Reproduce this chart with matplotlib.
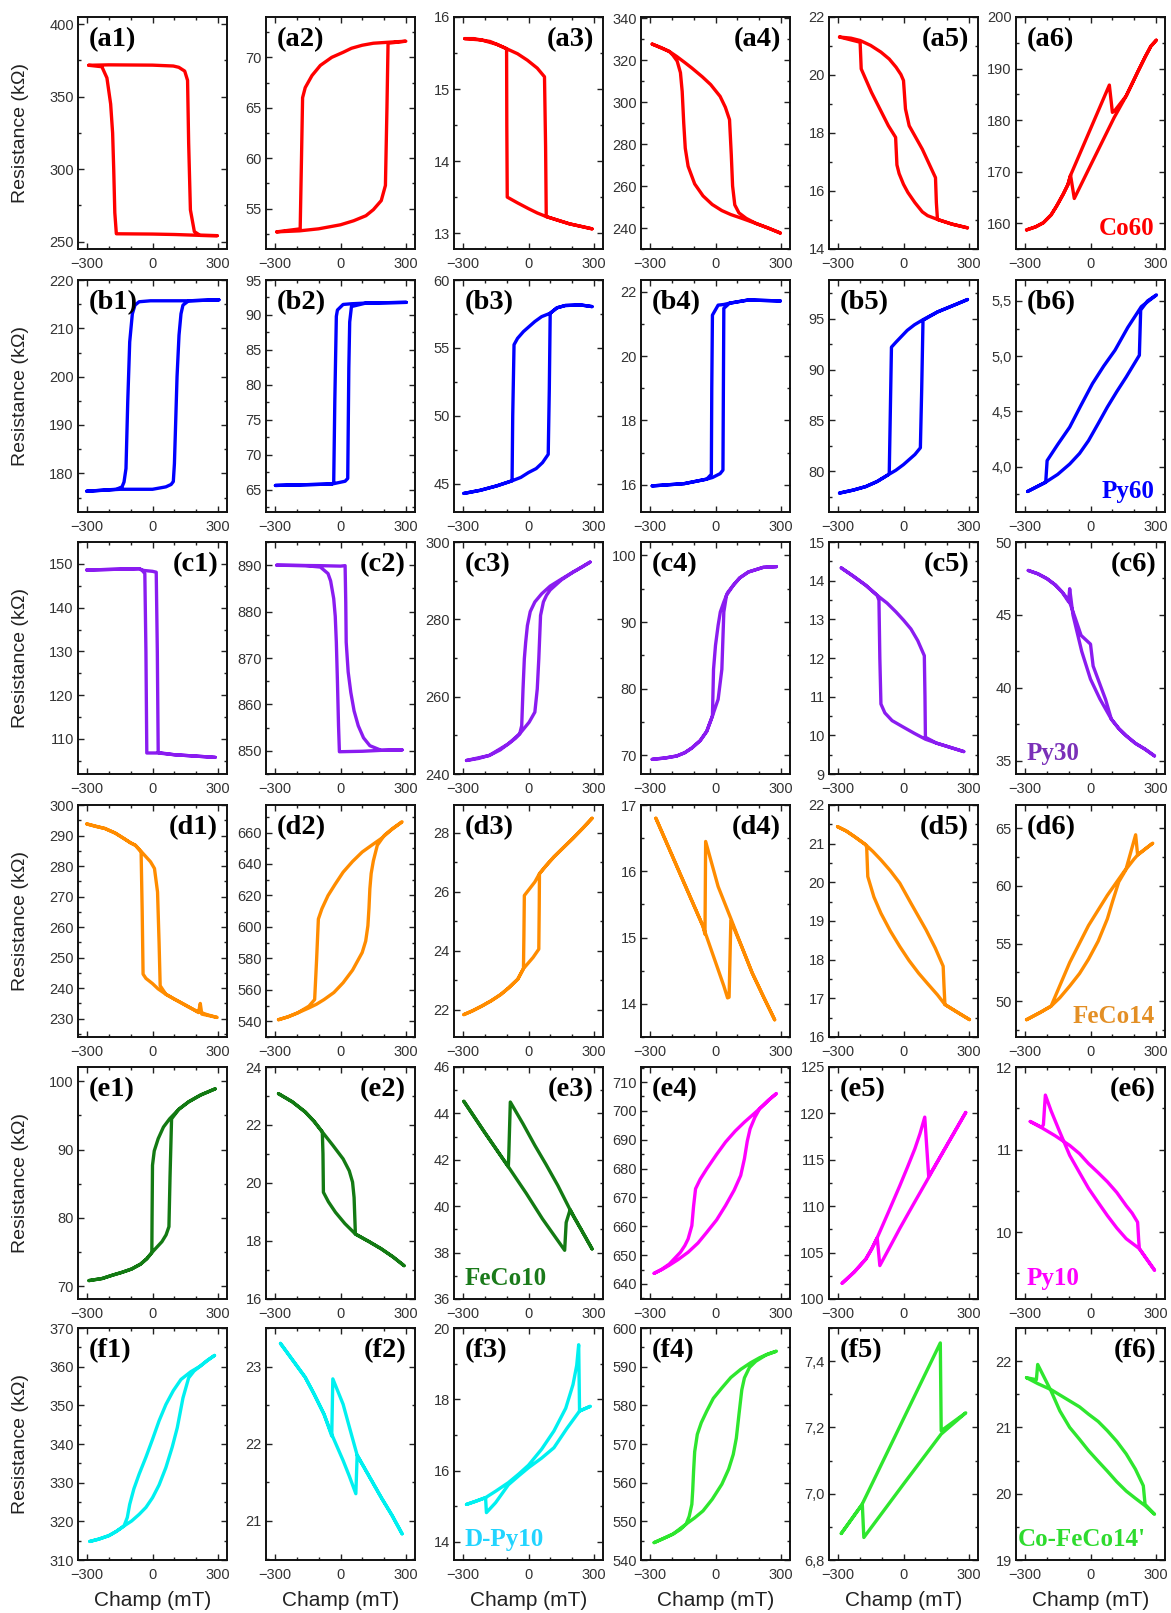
import matplotlib
matplotlib.use("Agg")
import matplotlib.pyplot as plt
from matplotlib.ticker import MultipleLocator, AutoMinorLocator, FuncFormatter

# ---------------- data: hysteresis loops (field mT, resistance kOhm) ----------------
a1 = [(-291, 371.7), (-200, 372.0), (0, 371.8), (95, 371.2), (120, 370.3), (147, 367.7), (160, 361.3), (165, 318), (173, 272), (191, 257), (217, 254.4), (295, 254.2),
      (217, 254.4), (100, 255.0), (0, 255.3), (-165, 255.5), (-172, 270), (-177, 300), (-182, 325), (-191, 345), (-208, 363), (-231, 370.7), (-291, 371.7)]
a2 = [(-291, 52.7), (-187, 52.8), (-100, 53.0), (0, 53.4), (60, 53.8), (116, 54.3), (150, 54.9), (186, 55.8), (205, 57.3), (212, 65.0), (217, 71.4), (298, 71.6),
      (220, 71.5), (150, 71.4), (99, 71.2), (50, 70.9), (12, 70.5), (-40, 70.0), (-92, 69.2), (-130, 68.2), (-161, 67.0), (-173, 66.0), (-178, 60.0), (-184, 53.0), (-291, 52.7)]
a3 = [(-291, 15.70), (-250, 15.70), (-213, 15.68), (-175, 15.66), (-144, 15.62), (-100, 15.56), (-50, 15.49), (-5, 15.40), (40, 15.29), (73, 15.17), (78, 14.2), (81, 13.23), (186, 13.13), (290, 13.06),
      (186, 13.13), (81, 13.23), (40, 13.28), (0, 13.34), (-50, 13.42), (-97, 13.50), (-99, 14.5), (-100, 15.56), (-144, 15.62), (-213, 15.68), (-291, 15.70)]
a4 = [(-289, 327.6), (-250, 326.0), (-211, 324.1), (-177, 321.7), (-140, 318.8), (-108, 316.2), (-60, 312.0), (-22, 308.3), (21, 302.7), (45, 297.5), (64, 291.6), (72, 275), (78, 260), (88, 251), (107, 247.2), (140, 244.6), (184, 242.2), (240, 240.0), (296, 237.6),
      (240, 240.0), (184, 242.2), (115, 244.8), (70, 246.4), (29, 248.3), (-15, 251.2), (-57, 255.3), (-95, 261.0), (-125, 269.4), (-138, 278), (-145, 290), (-152, 305), (-160, 314.0), (-175, 319.5), (-195, 322.4), (-211, 324.1), (-289, 327.6)]
a5 = [(-292, 21.31), (-240, 21.27), (-198, 21.19), (-150, 21.02), (-103, 20.79), (-65, 20.55), (-34, 20.27), (-12, 20.02), (0, 19.81), (9, 18.83), (26, 18.25), (86, 17.44), (146, 16.46), (150, 15.6), (155, 15.02), (220, 14.86), (292, 14.73),
      (220, 14.86), (155, 15.02), (110, 15.15), (86, 15.28), (52, 15.6), (20, 15.95), (0, 16.23), (-20, 16.6), (-30, 16.9), (-36, 17.85), (-69, 18.25), (-146, 19.40), (-193, 20.21), (-198, 21.13), (-292, 21.31)]
a6 = [(-292, 158.7), (-250, 159.3), (-215, 160.1), (-180, 161.6), (-155, 163.3), (-125, 165.6), (-103, 167.5), (-91, 169.3), (-74, 164.8), (0, 171.2), (50, 175.5), (108, 180.5), (163, 184.7), (215, 189.3), (250, 192.3), (275, 194.3), (300, 195.5),
      (275, 194.3), (250, 192.3), (215, 189.3), (163, 184.7), (110, 181.8), (100, 181.5), (86, 186.8), (0, 178.3), (-91, 169.3), (-103, 167.5), (-125, 165.6), (-155, 163.3), (-180, 161.6), (-215, 160.1), (-250, 159.3), (-292, 158.7)]

b1 = [(-300, 176.3), (-147, 176.7), (0, 176.7), (61, 177.2), (85, 177.7), (95, 178.3), (100, 182), (104, 187.9), (112, 200), (121, 208.6), (130, 213.0), (139, 214.8), (165, 215.7), (303, 215.9),
      (165, 215.7), (-9, 215.7), (-61, 215.5), (-80, 214.8), (-92, 213.0), (-104, 207.2), (-113, 194.8), (-121, 181.0), (-130, 178.2), (-139, 177.2), (-165, 176.7), (-300, 176.3)]
b2 = [(-297, 65.6), (-40, 65.8), (21, 66.2), (33, 66.6), (38, 82.4), (42, 89.0), (50, 91.2), (116, 91.7), (300, 91.8),
      (116, 91.7), (50, 91.6), (12, 91.5), (-14, 90.7), (-19, 89.8), (-26, 77.6), (-31, 66.0), (-40, 65.8), (-297, 65.6)]
b3 = [(-295, 44.27), (-220, 44.5), (-144, 44.83), (-75, 45.2), (-35, 45.45), (0, 45.81), (35, 46.1), (64, 46.54), (90, 47.15), (95, 52.0), (99, 57.55), (130, 57.95), (168, 58.12), (238, 58.16), (290, 58.04),
      (238, 58.16), (168, 58.12), (130, 57.95), (99, 57.55), (60, 57.3), (29, 56.94), (-23, 56.2), (-50, 55.7), (-66, 55.23), (-72, 50.0), (-75, 45.2), (-144, 44.83), (-220, 44.5), (-295, 44.27)]
b4 = [(-289, 15.97), (-143, 16.04), (-40, 16.18), (-14, 16.23), (21, 16.35), (34, 16.46), (36, 19.0), (38, 21.48), (64, 21.64), (150, 21.74), (296, 21.71),
      (150, 21.74), (64, 21.64), (38, 21.6), (12, 21.58), (-14, 21.27), (-17, 19.0), (-19, 16.33), (-40, 16.18), (-143, 16.04), (-289, 15.97)]
b5 = [(-292, 77.86), (-230, 78.15), (-172, 78.5), (-120, 79.0), (-69, 79.67), (-35, 80.1), (0, 80.66), (52, 81.65), (77, 82.31), (83, 88.0), (89, 94.84), (155, 95.66), (241, 96.42), (292, 96.88),
      (241, 96.42), (155, 95.66), (89, 94.9), (50, 94.4), (17, 93.85), (-34, 92.7), (-55, 92.2), (-60, 86.0), (-65, 79.83), (-69, 79.67), (-120, 79.0), (-172, 78.5), (-230, 78.15), (-292, 77.86)]
b6 = [(-287, 3.776), (-206, 3.858), (-150, 3.93), (-95, 4.024), (-50, 4.12), (-9, 4.236), (35, 4.39), (77, 4.54), (120, 4.68), (163, 4.812), (223, 5.009), (229, 5.418), (260, 5.50), (301, 5.555),
      (232, 5.449), (170, 5.26), (112, 5.055), (60, 4.91), (9, 4.752), (-45, 4.55), (-95, 4.358), (-150, 4.2), (-198, 4.055), (-204, 3.87), (-206, 3.858), (-287, 3.776)]

c1 = [(-300, 148.6), (-61, 148.9), (-40, 148.5), (0, 148.3), (17, 148.1), (22, 130.0), (26, 106.9), (100, 106.4), (286, 105.8),
      (100, 106.4), (26, 106.8), (-26, 106.8), (-30, 130.0), (-35, 147.8), (-47, 148.5), (-61, 148.9), (-300, 148.6)]
c2 = [(-291, 890.0), (-92, 889.9), (0, 889.8), (21, 889.9), (24, 882.0), (26, 873.4), (35, 867.0), (47, 862.6), (62, 858.6), (81, 855.4), (105, 852.8), (134, 851.1), (186, 850.1), (281, 850.2),
      (186, 850.1), (100, 849.9), (-5, 849.8), (-9, 855.4), (-14, 865.0), (-19, 873.4), (-24, 879.0), (-31, 882.8), (-45, 886.6), (-57, 888.2), (-92, 889.6), (-161, 889.9), (-291, 890.0)]
c3 = [(-283, 243.5), (-230, 244.0), (-179, 244.8), (-130, 246.2), (-92, 247.8), (-60, 249.2), (-40, 250.4), (3, 253.4), (29, 256.0), (40, 262.0), (47, 269.8), (55, 281.0), (68, 284.5), (82, 286.2), (99, 287.6), (150, 290.2), (203, 292.2), (240, 293.4), (281, 294.8),
      (240, 293.4), (203, 292.2), (150, 290.4), (99, 288.6), (60, 286.6), (29, 284.5), (8, 282.0), (-5, 278.4), (-13, 274.0), (-19, 269.8), (-25, 262.0), (-31, 252.5), (-40, 250.4), (-92, 247.8), (-179, 244.8), (-283, 243.5)]
c4 = [(-289, 69.4), (-230, 69.6), (-177, 69.9), (-140, 70.4), (-108, 71.1), (-70, 72.2), (-40, 73.6), (-14, 75.9), (12, 78.4), (29, 82.9), (38, 91.5), (50, 94.0), (81, 95.5), (110, 96.6), (150, 97.5), (218, 98.2), (278, 98.3),
      (218, 98.2), (150, 97.5), (110, 96.6), (81, 95.5), (55, 94.4), (38, 93.0), (22, 91.5), (12, 89.5), (0, 86.5), (-9, 82.9), (-14, 75.9), (-40, 73.6), (-70, 72.2), (-108, 71.1), (-140, 70.4), (-177, 69.9), (-230, 69.6), (-289, 69.4)]
c5 = [(-284, 14.33), (-230, 14.12), (-172, 13.88), (-120, 13.62), (-75, 13.42), (-34, 13.19), (0, 12.98), (34, 12.75), (65, 12.45), (95, 12.06), (98, 11.0), (100, 9.95), (150, 9.8), (275, 9.58),
      (150, 9.8), (100, 9.9), (50, 10.05), (0, 10.21), (-52, 10.38), (-85, 10.58), (-103, 10.81), (-108, 12.0), (-112, 13.49), (-120, 13.62), (-172, 13.88), (-230, 14.12), (-284, 14.33)]
c6 = [(-284, 48.05), (-240, 47.82), (-198, 47.48), (-160, 47.05), (-129, 46.56), (-100, 45.9), (-95, 46.8), (-80, 45.0), (-40, 42.5), (0, 40.6), (43, 39.24), (95, 37.86), (130, 37.2), (163, 36.72), (205, 36.2), (249, 35.8), (292, 35.34),
      (249, 35.8), (205, 36.2), (163, 36.72), (130, 37.2), (95, 37.86), (69, 39.2), (12, 41.5), (0, 43.0), (-43, 43.6), (-70, 44.8), (-98, 45.99), (-129, 46.56), (-160, 47.05), (-198, 47.48), (-240, 47.82), (-284, 48.05)]

d1 = [(-300, 293.8), (-260, 293.0), (-217, 292.3), (-170, 290.8), (-130, 289.0), (-100, 287.6), (-78, 286.8), (-52, 284.8), (-9, 281.4), (9, 279.2), (23, 271.5), (30, 255.0), (35, 240.8), (61, 238.0), (113, 235.9), (160, 234.0), (199, 232.6), (250, 231.3), (295, 230.4),
      (225, 231.5), (218, 235.0), (210, 232.0), (150, 234.5), (100, 236.4), (61, 238.0), (25, 239.8), (0, 241.5), (-30, 243.2), (-43, 244.6), (-47, 265.0), (-52, 284.6), (-78, 286.8), (-100, 287.6), (-130, 289.0), (-170, 290.8), (-217, 292.3), (-300, 293.8)]
d2 = [(-283, 541.0), (-240, 542.8), (-196, 545.3), (-144, 548.5), (-110, 550.8), (-75, 553.8), (-30, 558.3), (12, 564.5), (55, 572.5), (99, 583.7), (115, 591.0), (125, 600.7), (130, 612.0), (134, 624.2), (140, 634.0), (150, 642.0), (168, 651.9), (200, 658.2), (238, 662.6), (281, 666.8),
      (230, 661.5), (186, 656.2), (140, 651.7), (99, 647.6), (55, 641.6), (12, 634.8), (-25, 627.0), (-57, 619.9), (-85, 611.5), (-101, 605.0), (-109, 579.4), (-118, 553.8), (-144, 549.6), (-196, 545.3), (-240, 542.8), (-283, 541.0)]
d3 = [(-295, 21.83), (-255, 21.96), (-213, 22.12), (-170, 22.3), (-127, 22.51), (-90, 22.74), (-49, 23.03), (-23, 23.39), (21, 23.77), (47, 24.05), (49, 25.5), (50, 26.61), (80, 26.88), (116, 27.18), (160, 27.5), (203, 27.81), (250, 28.17), (290, 28.49),
      (250, 28.17), (203, 27.81), (160, 27.5), (116, 27.18), (80, 26.88), (50, 26.61), (29, 26.33), (-19, 25.87), (-21, 24.5), (-23, 23.39), (-49, 23.03), (-90, 22.74), (-127, 22.51), (-170, 22.3), (-213, 22.12), (-255, 21.96), (-295, 21.83)]
d4 = [(-272, 16.8), (-160, 15.95), (-57, 15.17), (0, 14.63), (38, 14.27), (55, 14.09), (62, 14.1), (70, 15.25), (120, 14.86), (167, 14.47), (220, 14.1), (270, 13.76),
      (220, 14.1), (167, 14.47), (120, 14.86), (72, 15.27), (12, 15.77), (-45, 16.45), (-48, 15.05), (-57, 15.17), (-160, 15.95), (-272, 16.8)]
d5 = [(-301, 21.44), (-262, 21.33), (-223, 21.18), (-172, 20.97), (-140, 20.8), (-103, 20.58), (-60, 20.3), (-17, 19.98), (34, 19.46), (103, 18.77), (145, 18.3), (181, 17.83), (185, 17.3), (189, 16.84), (240, 16.66), (301, 16.45),
      (240, 16.66), (189, 16.84), (155, 17.09), (110, 17.38), (69, 17.65), (25, 17.98), (-17, 18.34), (-60, 18.74), (-103, 19.2), (-135, 19.62), (-163, 20.15), (-168, 20.9), (-172, 20.97), (-223, 21.18), (-262, 21.33), (-301, 21.44)]
d6 = [(-292, 48.4), (-232, 49.0), (-180, 49.57), (-95, 53.35), (-9, 56.56), (77, 59.18), (163, 61.5), (206, 64.42), (215, 62.67), (250, 63.2), (284, 63.69),
      (215, 62.67), (198, 62.3), (165, 61.5), (129, 60.34), (100, 58.6), (77, 57.14), (35, 55.2), (-9, 53.64), (-50, 52.4), (-95, 51.31), (-140, 50.3), (-180, 49.57), (-232, 49.0), (-292, 48.4)]

e1 = [(-290, 70.8), (-230, 71.1), (-182, 71.6), (-140, 72.0), (-95, 72.5), (-55, 73.2), (-26, 74.0), (-3, 74.9), (20, 75.7), (43, 76.5), (62, 77.5), (75, 78.7), (80, 86.0), (87, 94.5), (120, 95.9), (165, 97.0), (220, 98.0), (286, 98.9),
      (220, 98.0), (165, 97.0), (120, 95.9), (78, 94.5), (50, 93.3), (26, 91.6), (8, 89.8), (0, 87.7), (-2, 80.0), (-3, 74.9), (-26, 74.0), (-55, 73.2), (-95, 72.5), (-140, 72.0), (-182, 71.6), (-230, 71.1), (-290, 70.8)]
e2 = [(-283, 23.08), (-220, 22.8), (-161, 22.45), (-120, 22.12), (-83, 21.76), (-35, 21.3), (12, 20.83), (40, 20.42), (55, 20.03), (62, 19.5), (68, 18.24), (130, 17.98), (186, 17.73), (240, 17.45), (290, 17.15),
      (240, 17.45), (186, 17.73), (130, 17.98), (68, 18.24), (20, 18.6), (-23, 18.99), (-55, 19.35), (-78, 19.68), (-80, 21.0), (-83, 21.76), (-120, 22.12), (-161, 22.45), (-220, 22.8), (-283, 23.08)]
e3 = [(-295, 44.52), (-200, 43.18), (-92, 41.7), (-10, 40.55), (64, 39.45), (165, 38.1), (172, 39.3), (190, 39.85), (240, 39.0), (290, 38.16),
      (240, 39.0), (203, 39.6), (134, 40.89), (80, 41.8), (29, 42.62), (-25, 43.55), (-83, 44.49), (-90, 42.2), (-92, 41.7), (-200, 43.18), (-295, 44.52)]
e4 = [(-280, 643.7), (-245, 645.0), (-211, 646.5), (-170, 648.5), (-125, 651.0), (-80, 654.2), (-40, 657.9), (5, 662.2), (46, 667.2), (85, 672.5), (115, 677.6), (132, 683.4), (145, 689.5), (158, 693.8), (180, 697.8), (201, 700.7), (240, 703.6), (278, 706.0),
      (250, 704.2), (218, 701.9), (180, 699.3), (132, 696.1), (90, 693.0), (46, 689.2), (5, 684.9), (-40, 679.9), (-70, 676.3), (-91, 673.0), (-100, 667.0), (-108, 660.2), (-125, 655.6), (-140, 653.3), (-160, 651.0), (-211, 646.9), (-245, 645.1), (-280, 643.7)]
e5 = [(-280, 101.7), (-225, 102.9), (-172, 104.3), (-145, 105.4), (-120, 106.6), (-108, 103.6), (-60, 105.7), (-17, 107.6), (45, 110.2), (103, 112.6), (155, 114.8), (206, 116.9), (245, 118.5), (284, 120.1),
      (245, 118.5), (206, 116.9), (155, 114.8), (115, 113.2), (97, 119.6), (75, 117.8), (52, 116.2), (18, 114.2), (-17, 112.2), (-70, 109.3), (-120, 106.6), (-145, 105.4), (-172, 104.3), (-225, 102.9), (-280, 101.7)]
e6 = [(-275, 11.34), (-220, 11.26), (-163, 11.17), (-95, 11.05), (-50, 10.95), (-9, 10.83), (35, 10.72), (77, 10.61), (120, 10.48), (163, 10.32), (190, 10.23), (215, 10.12), (220, 9.9), (223, 9.8), (260, 9.66), (292, 9.54),
      (260, 9.66), (223, 9.8), (163, 9.92), (120, 10.05), (77, 10.2), (35, 10.36), (-9, 10.53), (-50, 10.72), (-95, 10.93), (-146, 11.25), (-180, 11.47), (-206, 11.66), (-215, 11.3), (-223, 11.27), (-275, 11.34)]

f1 = [(-286, 314.8), (-245, 315.4), (-199, 316.3), (-165, 317.4), (-130, 318.8), (-95, 320.1), (-61, 321.8), (-30, 323.6), (0, 326.1), (30, 329.4), (61, 333.9), (90, 339.2), (113, 344.2), (139, 351.9), (165, 357.1), (190, 358.9), (217, 360.1), (250, 361.6), (283, 362.9),
      (250, 361.6), (217, 360.1), (175, 358.7), (130, 356.7), (95, 353.8), (61, 350.2), (30, 346.0), (0, 341.2), (-30, 336.6), (-61, 332.2), (-85, 328.4), (-104, 324.4), (-115, 321.0), (-130, 318.8), (-165, 317.4), (-199, 316.3), (-245, 315.4), (-286, 314.8)]
f2 = [(-274, 23.3), (-220, 23.09), (-161, 22.86), (-120, 22.64), (-75, 22.38), (-40, 22.12), (12, 21.78), (40, 21.58), (70, 21.35), (76, 21.85), (130, 21.58), (186, 21.3), (235, 21.07), (281, 20.83),
      (235, 21.07), (186, 21.3), (130, 21.58), (76, 21.85), (40, 22.22), (12, 22.51), (-35, 22.84), (-40, 22.1), (-75, 22.38), (-120, 22.64), (-161, 22.86), (-220, 23.09), (-274, 23.3)]
f3 = [(-283, 15.05), (-240, 15.14), (-196, 15.24), (-150, 15.42), (-92, 15.66), (-45, 15.9), (0, 16.15), (60, 16.6), (116, 17.11), (170, 17.75), (203, 18.41), (220, 18.95), (229, 19.53), (233, 17.67), (281, 17.8),
      (233, 17.67), (175, 17.18), (116, 16.64), (60, 16.35), (0, 16.08), (-45, 15.85), (-92, 15.6), (-150, 15.1), (-192, 14.82), (-196, 15.24), (-240, 15.14), (-283, 15.05)]
f4 = [(-280, 544.5), (-240, 545.5), (-194, 546.7), (-160, 547.9), (-134, 549.3), (-95, 550.9), (-57, 552.7), (-15, 555.7), (29, 559.6), (60, 563.5), (81, 567.3), (95, 571.5), (107, 577.6), (120, 584.0), (132, 587.1), (155, 589.8), (184, 591.4), (230, 593.0), (278, 594.0),
      (240, 593.3), (201, 592.3), (160, 591.0), (115, 589.3), (70, 587.2), (29, 584.5), (-10, 581.8), (-40, 578.5), (-65, 575.5), (-83, 572.5), (-95, 568.0), (-100, 563.0), (-104, 558.0), (-108, 554.4), (-120, 551.3), (-134, 549.3), (-194, 546.7), (-240, 545.5), (-280, 544.5)]
f5 = [(-284, 6.88), (-189, 6.968), (0, 7.226), (168, 7.455), (172, 7.19), (284, 7.244),
      (172, 7.18), (0, 7.029), (-181, 6.868), (-188, 6.968), (-284, 6.88)]
f6 = [(-292, 21.75), (-240, 21.66), (-180, 21.57), (-140, 21.49), (-95, 21.4), (-50, 21.31), (-9, 21.2), (35, 21.09), (77, 20.95), (120, 20.79), (163, 20.6), (205, 20.37), (241, 20.12), (249, 19.84), (292, 19.69),
      (249, 19.82), (205, 19.93), (163, 20.04), (120, 20.18), (77, 20.34), (35, 20.49), (-9, 20.65), (-50, 20.82), (-95, 21.0), (-140, 21.25), (-180, 21.55), (-241, 21.95), (-247, 21.72), (-292, 21.75)]

loops = [[a1, a2, a3, a4, a5, a6],
         [b1, b2, b3, b4, b5, b6],
         [c1, c2, c3, c4, c5, c6],
         [d1, d2, d3, d4, d5, d6],
         [e1, e2, e3, e4, e5, e6],
         [f1, f2, f3, f4, f5, f6]]

row_letters = ["a", "b", "c", "d", "e", "f"]
x_ticks = [-300, 0, 300]
samples = ["Co60", "Py60", "Py30", "FeCo14", "FeCo10", "Py10", "D-Py10", "Co-FeCo14'"]

# ---------------- axis settings ----------------
YLIM = [[(245, 405), (51, 74), (12.78, 16.0), (230, 340.5), (14, 22), (155, 200)],
        [(172, 220), (61.8, 95), (42.9, 60), (15.16, 22.36), (76, 98.8), (3.59, 5.69)],
        [(102, 155), (845, 895), (240, 300), (67.2, 102), (9, 15), (34.1, 50)],
        [(224, 300), (530, 677.5), (21.07, 28.94), (13.5, 17.0), (16, 22), (46.9, 67)],
        [(68.1, 102.1), (16, 24), (36, 46), (634.8, 715.2), (100, 125), (9.19, 12)],
        [(310, 370), (20.49, 23.5), (13.49, 20), (540, 600), (6.8, 7.5), (19, 22.5)]]
YSTEP = [[50, 5, 1, 20, 2, 10],
         [10, 5, 5, 2, 5, 0.5],
         [10, 10, 20, 10, 1, 5],
         [10, 20, 2, 1, 1, 5],
         [10, 2, 2, 10, 5, 1],
         [10, 1, 2, 10, 0.2, 1]]
COLORS = [["#FF0000"] * 6,
          ["#0000FF"] * 6,
          ["#8A1CF0"] * 6,
          ["#FF8C00"] * 6,
          ["#137A13"] * 3 + ["#FF00FF"] * 3,
          ["#00F0F0"] * 3 + ["#2EE62E"] * 3]
LSIDE = [["l", "l", "r", "r", "r", "l"],
         ["l", "l", "l", "l", "l", "l"],
         ["r", "r", "l", "l", "r", "r"],
         ["r", "l", "l", "r", "r", "l"],
         ["l", "r", "r", "l", "l", "r"],
         ["l", "r", "l", "l", "l", "r"]]
SAMPLE_POS = [(0, 5, samples[0], "#FF0000", "r"),
              (1, 5, samples[1], "#0000FF", "r"),
              (2, 5, samples[2], "#7A30B8", "l"),
              (3, 5, samples[3], "#E38F25", "r"),
              (4, 2, samples[4], "#1A7A1A", "l"),
              (4, 5, samples[5], "#FF00FF", "l"),
              (5, 2, samples[6], "#22D4FF", "l"),
              (5, 5, samples[7], "#2EDB2E", "l")]

W, H = 1171, 1613
fig = plt.figure(figsize=(W / 100, H / 100), dpi=100)
col_left = [78, 266, 454, 641, 829, 1016]
row_top = [17, 280, 542, 805, 1067, 1328]
aw, ah = 149, 232

tick_font = "Liberation Sans"
serif = "Liberation Serif"

axes = {}
for r in range(6):
    for c in range(6):
        ax = fig.add_axes([col_left[c] / W, 1 - (row_top[r] + ah) / H, aw / W, ah / H])
        axes[(r, c)] = ax
        pts = loops[r][c]
        xs = [p[0] for p in pts]
        ys = [p[1] for p in pts]
        ax.plot(xs, ys, color=COLORS[r][c], lw=2.4, solid_joinstyle="round", solid_capstyle="round")
        ax.set_xlim(-340, 340)
        ax.set_ylim(*YLIM[r][c])
        ax.set_xticks(x_ticks)
        ax.xaxis.set_minor_locator(MultipleLocator(100))
        ax.yaxis.set_major_locator(MultipleLocator(YSTEP[r][c]))
        ax.yaxis.set_minor_locator(AutoMinorLocator(2))
        if YSTEP[r][c] < 1:
            ax.yaxis.set_major_formatter(FuncFormatter(lambda v, p: ("%.1f" % v).replace(".", ",")))
        else:
            ax.yaxis.set_major_formatter(FuncFormatter(lambda v, p: "%d" % round(v)))
        ax.tick_params(which="both", direction="in", top=True, right=True, width=1.0,
                       labelsize=10.5, pad=3, colors="#222222")
        ax.tick_params(axis="x", which="major", pad=5.5)
        ax.tick_params(which="major", length=4)
        ax.tick_params(which="minor", length=2.5)
        for lab in ax.get_xticklabels() + ax.get_yticklabels():
            lab.set_fontfamily(tick_font)
            lab.set_color("#333333")
        for sp in ax.spines.values():
            sp.set_linewidth(1.4)
            sp.set_color("#111111")
        lbl = "(%s%d)" % (row_letters[r], c + 1)
        if LSIDE[r][c] == "l":
            ax.text(0.07, 0.955, lbl, transform=ax.transAxes, ha="left", va="top",
                    fontsize=20.5, fontweight="bold", family=serif, color="black")
        else:
            ax.text(0.94, 0.955, lbl, transform=ax.transAxes, ha="right", va="top",
                    fontsize=20.5, fontweight="bold", family=serif, color="black")

for (r, c, txt, col, side) in SAMPLE_POS:
    ax = axes[(r, c)]
    if side == "r":
        ax.text(0.93, 0.06, txt, transform=ax.transAxes, ha="right", va="baseline",
                fontsize=18, fontweight="bold", family=serif, color=col)
    else:
        x0 = 0.015 if txt.startswith("Co-") else 0.07
        ax.text(x0, 0.06, txt, transform=ax.transAxes, ha="left", va="baseline",
                fontsize=18, fontweight="bold", family=serif, color=col)

for r in range(6):
    yc = 1 - (row_top[r] + ah / 2) / H
    fig.text(21 / W, yc, "Resistance (k\u03a9)", rotation=90, ha="center", va="center",
             fontsize=14, family=tick_font, color="#222222")
for c in range(6):
    xc = (col_left[c] + aw / 2) / W
    fig.text(xc, 1 - 1601 / H, "Champ (mT)", ha="center", va="center",
             fontsize=15, family=tick_font, color="#222222")

fig.savefig("out.png", dpi=100, facecolor="white")
